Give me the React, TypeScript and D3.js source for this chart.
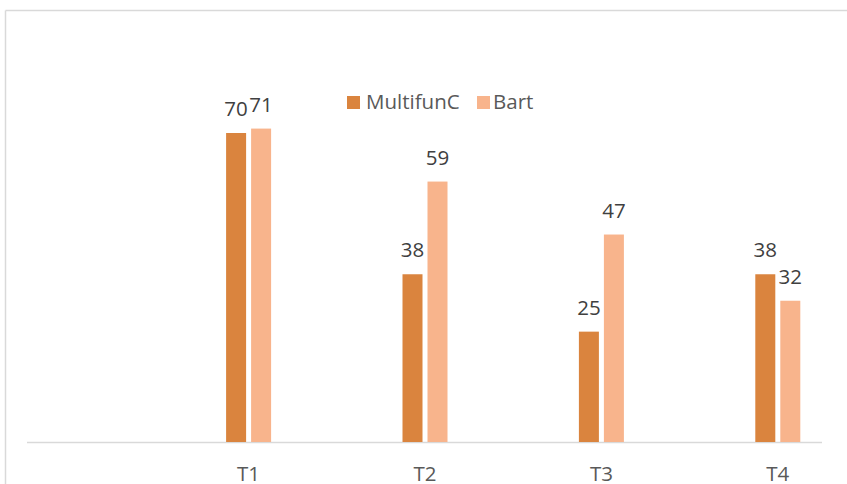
import React from 'react';
import * as d3 from 'd3';

const categories = ['', 'T1', 'T2', 'T3', 'T4'];
const seriesNames = ['MultifunC', 'Bart'];
const multifunC = [null, 70, 38, 25, 38];
const bart = [null, 71, 59, 47, 32];
const colors = ['#DA843E', '#F8B48C'];

const W = 847;
const H = 484;
const baseY = 442;
const font = '"Open Sans", sans-serif';
const fs = 20.5;

const App: React.FC = () => {
  const x = d3.scaleBand<string>().domain(categories).range([-16, 866]).padding(0);
  const y = d3.scaleLinear().domain([0, 70]).range([baseY, 133]);
  const barW = 20;
  const gap = 5;
  const series = [multifunC, bart];

  return (
    <svg
      width={W}
      height={H}
      style={{ position: 'fixed', left: 0, top: 0, display: 'block', fontFamily: font }}
    >
      <rect x={0} y={0} width={W} height={H} fill="#fff" />
      {/* frame */}
      <line x1={5.5} y1={10.5} x2={W} y2={10.5} stroke="#d9d9d9" strokeWidth={1.5} />
      <line x1={5.5} y1={10.5} x2={5.5} y2={H} stroke="#d9d9d9" strokeWidth={1.5} />
      {/* axis */}
      <line x1={27} y1={baseY + 0.5} x2={822} y2={baseY + 0.5} stroke="#d9d9d9" strokeWidth={1.5} />
      {categories.map((c, i) => {
        const cx = (x(c) ?? 0) + x.bandwidth() / 2;
        return (
          <g key={i}>
            {series.map((s, k) => {
              const v = s[i];
              if (v == null) return null;
              const bx = k === 0 ? cx - gap / 2 - barW : cx + gap / 2;
              return (
                <g key={k}>
                  <rect x={bx} y={y(v)} width={barW} height={baseY - y(v)} fill={colors[k]} />
                  <text x={bx + barW / 2} y={y(v) - 17} textAnchor="middle" fontSize={fs} fill="#404040">
                    {v}
                  </text>
                </g>
              );
            })}
            <text x={cx} y={481} textAnchor="middle" fontSize={fs} fill="#595959">
              {c}
            </text>
          </g>
        );
      })}
      {/* legend */}
      <rect x={347} y={96} width={13} height={13} fill={colors[0]} />
      <text x={366} y={109} fontSize={fs} fill="#595959">{seriesNames[0]}</text>
      <rect x={477} y={96} width={13} height={13} fill={colors[1]} />
      <text x={493} y={109} fontSize={fs} fill="#595959">{seriesNames[1]}</text>
    </svg>
  );
};

export default App;
